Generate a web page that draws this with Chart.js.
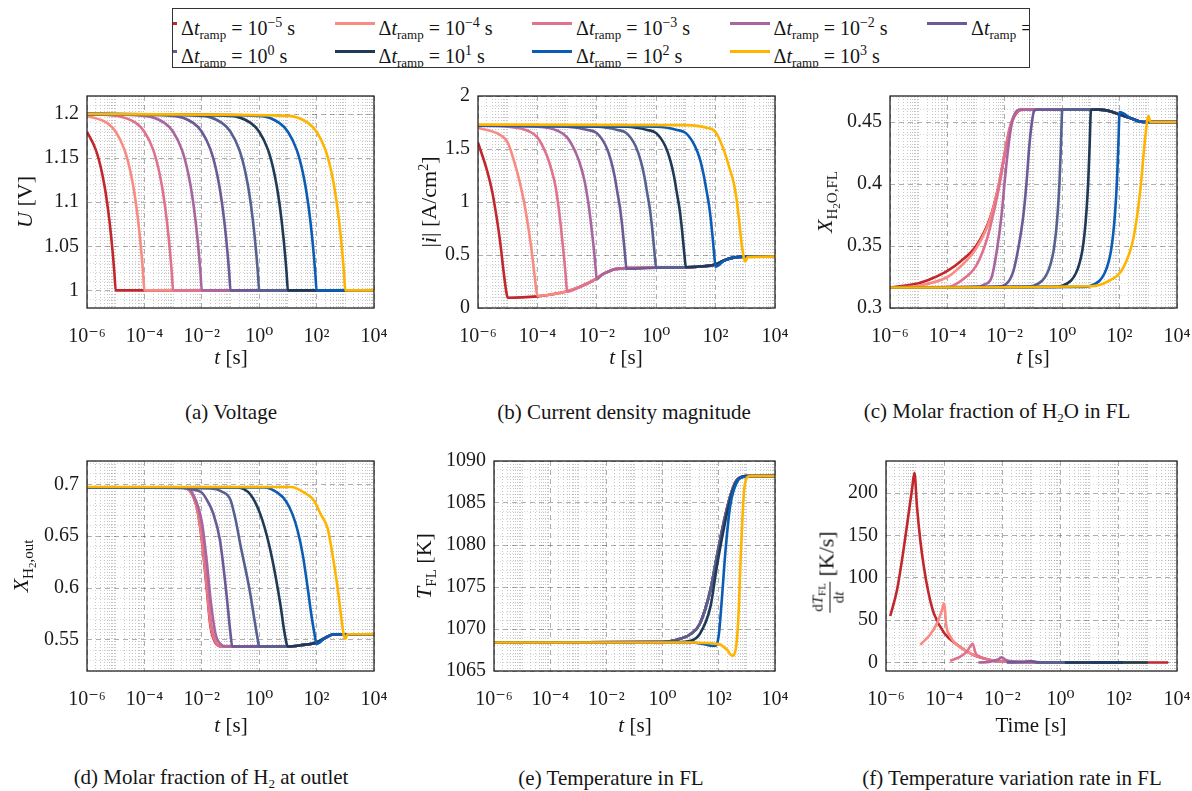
<!DOCTYPE html>
<html>
<head>
<meta charset="utf-8">
<title>Ramp duration study</title>
<script src="https://cdn.jsdelivr.net/npm/chart.js"></script>
<style>
  body { margin: 0; background: #fff; font-family: 'Liberation Serif', 'Times New Roman', serif; color: #151515; }
  #page { position: relative; width: 1192px; height: 791px; overflow: hidden; }
  .plot { position: absolute; }
  #legend {
    position: absolute; left: 172px; top: 8px; width: 858px; height: 60px;
    box-sizing: border-box; border: 1px solid #333; overflow: hidden;
  }
  .entry { position: absolute; font-size: 20px; line-height: 20px; white-space: nowrap; }
  .swatch { position: absolute; left: -44px; top: 9px; width: 40px; height: 3px; }
  .sb { font-size: 13px; vertical-align: -4px; }
  .sp { font-size: 14px; vertical-align: 8px; }
  .ytitle .sb { font-size: 15px; vertical-align: -5px; }
  .sb2 { font-size: 11px; vertical-align: -3px; }
  .xtitle, .ytitle, .caption { position: absolute; white-space: nowrap; line-height: 1; }
  .xtitle { font-size: 21px; transform: translate(-50%, -50%); }
  .ytitle { font-size: 22px; transform: translate(-50%, -50%) rotate(-90deg); }
  .caption { font-size: 21px; transform: translate(-50%, -50%); }
  .frac { display: inline-flex; flex-direction: column; align-items: center; vertical-align: middle; font-size: 15px; line-height: 16px; }
  .frac .num { border-bottom: 1px solid #151515; padding: 0 1px; }
</style>
</head>
<body>
<div id="page">
  <div id="legend"></div>

  <div class="plot" id="pa"><canvas></canvas></div>
  <div class="plot" id="pb"><canvas></canvas></div>
  <div class="plot" id="pc"><canvas></canvas></div>
  <div class="plot" id="pd"><canvas></canvas></div>
  <div class="plot" id="pe"><canvas></canvas></div>
  <div class="plot" id="pf"><canvas></canvas></div>

  <div class="ytitle" style="left:25px; top:202px;"><i>U</i> [V]</div>
  <div class="ytitle" style="left:428px; top:202px;">|<i>i</i>| [A/cm<span class="sp">2</span>]</div>
  <div class="ytitle" style="left:828px; top:202px;"><i>X</i><span class="sb">H<span class="sb2">2</span>O,FL</span></div>
  <div class="ytitle" style="left:24px; top:566px;"><i>X</i><span class="sb">H<span class="sb2">2</span>,out</span></div>
  <div class="ytitle" style="left:426px; top:566px;"><i>T</i><span class="sb">FL</span> [K]</div>
  <div class="ytitle" style="left:828px; top:572px;"><span class="frac"><span class="num">d<i>T</i><span class="sb2">FL</span></span><span>d<i>t</i></span></span> [K/s]</div>

  <div class="xtitle" style="left:231px; top:357px;"><i>t</i> [s]</div>
  <div class="xtitle" style="left:626px; top:357px;"><i>t</i> [s]</div>
  <div class="xtitle" style="left:1033px; top:357px;"><i>t</i> [s]</div>
  <div class="xtitle" style="left:231px; top:725px;"><i>t</i> [s]</div>
  <div class="xtitle" style="left:635px; top:725px;"><i>t</i> [s]</div>
  <div class="xtitle" style="left:1031px; top:725px;">Time [s]</div>

  <div class="caption" style="left:231px; top:412px;">(a) Voltage</div>
  <div class="caption" style="left:624px; top:412px;">(b) Current density magnitude</div>
  <div class="caption" style="left:997px; top:412px;">(c) Molar fraction of H<span class="sb">2</span>O in FL</div>
  <div class="caption" style="left:211px; top:778px;">(d) Molar fraction of H<span class="sb">2</span> at outlet</div>
  <div class="caption" style="left:611px; top:778px;">(e) Temperature in FL</div>
  <div class="caption" style="left:1012px; top:778px;">(f) Temperature variation rate in FL</div>
</div>

<script>
// ramp durations 10^k s, one curve each
const rampExponents = [-5, -4, -3, -2, -1, 0, 1, 2, 3];
const rampColors = ['#c1272d', '#f98b83', '#e0718f', '#a8659f', '#6a5a96', '#566190', '#1f3a56', '#0b5cb5', '#ffb400'];

const xTickValues = [1e-6, 1e-4, 1e-2, 1, 1e2, 1e4];
const xTickLabels = ['10⁻⁶', '10⁻⁴', '10⁻²', '10⁰', '10²', '10⁴'];

// (a) cell voltage [V]
const voltageTicks = [1, 1.05, 1.1, 1.15, 1.2];
const voltageRamp = [
  [[1e-6,1.18],[2e-6,1.16],[3e-6,1.14],[4e-6,1.12],[5e-6,1.1],[6e-6,1.08],[7e-6,1.06],[8e-6,1.04],[9e-6,1.02],[1e-5,1]],
  [[1e-6,1.198],[5e-6,1.19],[1e-5,1.18],[2e-5,1.16],[3e-5,1.14],[4e-5,1.12],[5e-5,1.1],[6e-5,1.08],[7e-5,1.06],[8e-5,1.04],[9e-5,1.02],[1e-4,1]],
  [[1e-6,1.2],[1e-5,1.198],[5e-5,1.19],[1e-4,1.18],[2e-4,1.16],[3e-4,1.14],[4e-4,1.12],[5e-4,1.1],[6e-4,1.08],[7e-4,1.06],[8e-4,1.04],[9e-4,1.02],[1e-3,1]],
  [[1e-6,1.2],[1e-4,1.198],[5e-4,1.19],[1e-3,1.18],[2e-3,1.16],[3e-3,1.14],[4e-3,1.12],[5e-3,1.1],[6e-3,1.08],[7e-3,1.06],[8e-3,1.04],[9e-3,1.02],[1e-2,1]],
  [[1e-6,1.2],[1e-3,1.198],[5e-3,1.19],[1e-2,1.18],[2e-2,1.16],[3e-2,1.14],[4e-2,1.12],[5e-2,1.1],[6e-2,1.08],[7e-2,1.06],[8e-2,1.04],[9e-2,1.02],[0.1,1]],
  [[1e-6,1.2],[1e-2,1.198],[0.05,1.19],[0.1,1.18],[0.2,1.16],[0.3,1.14],[0.4,1.12],[0.5,1.1],[0.6,1.08],[0.7,1.06],[0.8,1.04],[0.9,1.02],[1,1]],
  [[1e-6,1.2],[0.1,1.198],[0.5,1.19],[1,1.18],[2,1.16],[3,1.14],[4,1.12],[5,1.1],[6,1.08],[7,1.06],[8,1.04],[9,1.02],[10,1]],
  [[1e-6,1.2],[1,1.198],[5,1.19],[10,1.18],[20,1.16],[30,1.14],[40,1.12],[50,1.1],[60,1.08],[70,1.06],[80,1.04],[90,1.02],[100,1]],
  [[1e-6,1.2],[10,1.198],[50,1.19],[100,1.18],[200,1.16],[300,1.14],[400,1.12],[500,1.1],[600,1.08],[700,1.06],[800,1.04],[900,1.02],[1000,1]]
];
const voltageHold = [[1e4, 1]];

// (b) current density magnitude [A/cm2]
const currentTicks = [0, 0.5, 1, 1.5, 2];
const currentRamp = [
  [[1e-6,1.56],[2e-6,1.3],[3e-6,1.1],[4e-6,0.9],[5e-6,0.72],[6e-6,0.55],[7e-6,0.38],[8e-6,0.25],[9e-6,0.15],[1e-5,0.097]],
  [[1e-6,1.7],[5e-6,1.64],[1e-5,1.56],[2e-5,1.3],[3e-5,1.1],[4e-5,0.92],[5e-5,0.75],[6e-5,0.6],[7e-5,0.45],[8e-5,0.31],[9e-5,0.19],[1e-4,0.115]],
  [[1e-6,1.72],[1e-5,1.71],[5e-5,1.67],[1e-4,1.61],[2e-4,1.45],[3e-4,1.3],[4e-4,1.16],[5e-4,0.98],[6e-4,0.8],[7e-4,0.62],[8e-4,0.46],[9e-4,0.3],[1e-3,0.155]],
  [[1e-6,1.72],[1e-4,1.71],[5e-4,1.67],[1e-3,1.61],[2e-3,1.46],[3e-3,1.32],[4e-3,1.18],[5e-3,1.02],[6e-3,0.86],[7e-3,0.7],[8e-3,0.55],[9e-3,0.4],[1e-2,0.27]],
  [[1e-6,1.72],[1e-3,1.71],[5e-3,1.68],[1e-2,1.65],[2e-2,1.53],[3e-2,1.39],[4e-2,1.24],[5e-2,1.08],[6e-2,0.95],[7e-2,0.8],[8e-2,0.64],[9e-2,0.49],[0.1,0.37]],
  [[1e-6,1.72],[1e-2,1.71],[0.05,1.68],[0.1,1.65],[0.2,1.53],[0.3,1.39],[0.4,1.24],[0.5,1.08],[0.6,0.95],[0.7,0.8],[0.8,0.64],[0.9,0.49],[1,0.38]],
  [[1e-6,1.72],[0.1,1.71],[0.5,1.68],[1,1.65],[2,1.53],[3,1.39],[4,1.24],[5,1.08],[6,0.95],[7,0.8],[8,0.64],[9,0.49],[10,0.385]],
  [[1e-6,1.72],[1,1.71],[5,1.68],[10,1.65],[20,1.53],[30,1.4],[40,1.25],[50,1.1],[60,0.97],[70,0.82],[80,0.66],[90,0.5],[100,0.39]],
  [[1e-6,1.73],[10,1.725],[50,1.7],[100,1.66],[200,1.47],[300,1.31],[400,1.19],[500,1.04],[600,0.86],[700,0.68],[800,0.55],[900,0.47],[1000,0.44],[1200,0.48]]
];
const currentRelax = [[3e-5,0.1],[1e-4,0.11],[3e-4,0.128],[1e-3,0.158],[3e-3,0.205],[1e-2,0.28],[1.5e-2,0.315],[2.5e-2,0.345],[4e-2,0.365],[0.1,0.376],[1,0.38],[10,0.385],[30,0.392],[100,0.41],[200,0.45],[400,0.475],[1000,0.485],[1e4,0.485]];

// (c) H2O molar fraction in the fuel layer
const waterTicks = [0.3, 0.35, 0.4, 0.45];
const waterRise = [
  [[1e-6,0.3165],[1e-5,0.32],[3e-5,0.324],[1e-4,0.33],[3e-4,0.338],[1e-3,0.35],[3e-3,0.372],[6e-3,0.398],[1e-2,0.425],[1.5e-2,0.445],[2.5e-2,0.457],[4e-2,0.46]],
  [[1e-6,0.3165],[1e-5,0.318],[1e-4,0.325],[3e-4,0.334],[1e-3,0.348],[3e-3,0.371],[6e-3,0.398],[1e-2,0.425],[1.5e-2,0.446],[2.5e-2,0.458],[4e-2,0.46]],
  [[1e-6,0.3165],[1e-4,0.317],[3e-4,0.322],[1e-3,0.334],[2e-3,0.35],[3e-3,0.364],[6e-3,0.395],[1e-2,0.424],[1.5e-2,0.445],[2.5e-2,0.458],[4e-2,0.46]],
  [[1e-6,0.3165],[1e-3,0.317],[2e-3,0.319],[3.5e-3,0.325],[5.5e-3,0.349],[7.8e-3,0.376],[1e-2,0.403],[1.33e-2,0.43],[1.76e-2,0.449],[2.6e-2,0.459],[3.5e-2,0.46]],
  [[1e-6,0.3165],[5e-3,0.317],[1.2e-2,0.32],[2e-2,0.33],[3e-2,0.349],[4.5e-2,0.376],[5.8e-2,0.403],[7.1e-2,0.43],[8.7e-2,0.449],[0.105,0.459],[0.13,0.46]],
  [[1e-6,0.3165],[0.05,0.317],[0.1,0.318],[0.2,0.322],[0.3,0.328],[0.4,0.336],[0.5,0.346],[0.6,0.36],[0.7,0.378],[0.8,0.4],[0.9,0.43],[1,0.459],[1.1,0.46]],
  [[1e-6,0.3165],[0.5,0.317],[1,0.318],[2,0.322],[3,0.328],[4,0.336],[5,0.346],[6,0.36],[7,0.378],[8,0.4],[9,0.43],[10,0.459],[11,0.46]],
  [[1e-6,0.3165],[5,0.317],[10,0.318],[20,0.322],[30,0.328],[40,0.336],[50,0.346],[60,0.36],[70,0.378],[80,0.4],[90,0.43],[100,0.458]],
  [[1e-6,0.3165],[10,0.3175],[36,0.321],[138,0.333],[308,0.357],[526,0.395],[725,0.43],[900,0.45],[1000,0.455],[1200,0.45]]
];
const waterPlateau = [[4e-2,0.46],[20,0.46],[50,0.4585],[100,0.456],[250,0.453],[500,0.4505],[1000,0.45],[1e4,0.45]];

// (d) H2 molar fraction at the outlet
const hydrogenTicks = [0.55, 0.6, 0.65, 0.7];
const hydrogenDrop = [
  [[1e-6,0.697],[2e-3,0.697],[4e-3,0.693],[7e-3,0.675],[1e-2,0.646],[1.5e-2,0.598],[2e-2,0.563],[3e-2,0.547],[5e-2,0.5436]],
  [[1e-6,0.697],[2e-3,0.697],[4e-3,0.693],[7e-3,0.676],[1e-2,0.648],[1.5e-2,0.601],[2e-2,0.566],[3e-2,0.548],[5e-2,0.5436]],
  [[1e-6,0.697],[2.2e-3,0.697],[4.5e-3,0.692],[7.5e-3,0.675],[1.1e-2,0.645],[1.6e-2,0.598],[2.2e-2,0.562],[3.2e-2,0.547],[5e-2,0.5436]],
  [[1e-6,0.697],[3e-3,0.697],[5e-3,0.69],[1e-2,0.664],[1.5e-2,0.625],[2e-2,0.59],[3e-2,0.556],[5e-2,0.545],[7e-2,0.5436]],
  [[1e-6,0.697],[1e-3,0.697],[5e-3,0.695],[1e-2,0.692],[1.5e-2,0.685],[2.5e-2,0.672],[4.3e-2,0.646],[7e-2,0.598],[0.1,0.556],[0.115,0.5436]],
  [[1e-6,0.697],[2e-2,0.696],[5e-2,0.693],[0.1,0.685],[0.15,0.666],[0.22,0.642],[0.45,0.6],[0.67,0.571],[0.87,0.552],[1,0.5436]],
  [[1e-6,0.697],[0.17,0.697],[0.5,0.69],[1.1,0.671],[2.2,0.642],[3.8,0.61],[5.7,0.581],[7.4,0.559],[10,0.5436]],
  [[1e-6,0.697],[1.5,0.697],[4.3,0.692],[8.5,0.684],[14.5,0.671],[22,0.655],[33,0.632],[49,0.6],[65,0.575],[85,0.5555],[100,0.546]],
  [[1e-6,0.6975],[13,0.6975],[37,0.692],[83,0.684],[140,0.671],[240,0.658],[360,0.632],[540,0.6],[700,0.575],[880,0.555],[1000,0.551],[1200,0.5555]]
];
const hydrogenSettle = [[0.12,0.5436],[10,0.5436],[30,0.545],[100,0.5475],[200,0.552],[400,0.5555],[1e4,0.5555]];

// (e) fuel layer temperature [K]
const tempTicks = [1065, 1070, 1075, 1080, 1085, 1090];
const tempFast = [[1e-6,1068.4],[1,1068.45],[3,1068.7],[10,1069.4],[21,1070.6],[50,1074.6],[85,1078.6],[146,1082.5],[250,1085.7],[430,1087.7],[1000,1088.2],[1e4,1088.2]];
const tempRamp10 = [[1e-6,1068.4],[3,1068.45],[10,1068.6],[21,1069.4],[50,1072.6],[85,1077.4],[146,1081.7],[250,1085.3],[430,1087.5],[1000,1088.2],[1e4,1088.2]];
const tempRamp100 = [[1e-6,1068.4],[10,1068.4],[30,1068.2],[60,1068],[80,1068],[100,1069.3],[128,1073.5],[170,1079],[250,1084.5],[430,1087.4],[800,1088.1],[1e4,1088.2]];
const tempRamp1000 = [[1e-6,1068.4],[10,1068.4],[100,1068.2],[200,1067.5],[300,1066.8],[400,1067.6],[500,1071.5],[600,1078.5],[700,1083.5],[800,1086.6],[1000,1088],[1300,1088.2],[1e4,1088.2]];

// (f) temperature rate dT/dt [K/s]
const rateTicks = [0, 50, 100, 150, 200];
const rateCurves = [
  [[1.4e-6,55],[2.4e-6,86],[4e-6,133],[6e-6,176],[7.8e-6,204],[9.5e-6,224],[1.16e-5,184],[1.5e-5,145],[2e-5,113],[2.9e-5,82],[4.4e-5,58],[1e-4,35],[2.8e-4,21],[1e-3,9],[3.8e-3,3],[1e-2,1.2],[0.1,0.3],[1,0],[5000,0]],
  [[1.5e-5,21],[3.3e-5,33],[5.6e-5,46],[8.4e-5,62],[9.8e-5,70],[1.2e-4,42],[1.6e-4,31],[2.7e-4,21],[6e-4,13],[1e-3,9],[3.8e-3,3],[1e-2,1.2],[0.1,0.3],[1,0],[1000,0]],
  [[1.6e-4,2],[3.6e-4,7],[6e-4,13],[9.5e-4,22],[1.2e-3,11],[1.7e-3,7],[3.8e-3,3],[1e-2,1.2],[0.1,0.3],[1,0],[1000,0]],
  [[1.5e-3,0],[3.8e-3,1],[7.5e-3,4],[9.5e-3,6.3],[1.3e-2,3],[3.2e-2,1],[9e-2,0.4],[1,0],[1000,0]],
  [[1.4e-2,0],[5e-2,0.8],[0.1,1.6],[0.15,0.6],[0.4,0.2],[1,0],[1000,0]],
  [[0.14,0],[1,0.3],[1.5,0.1],[10,0],[1000,0]],
  [[1.4,0],[10,0.05],[15,0],[1000,0]],
  [[14,0],[100,0.01],[1000,0]],
  [[140,0],[1000,0]]
];

const FONT = "'Liberation Serif', 'DejaVu Serif', serif";
const PAD_L = 80, PAD_R = 20, PAD_T = 12, PAD_B = 45;

// append the shared relaxation part after each ramp
function withTail(ramp, tail) {
  const end = ramp[ramp.length - 1][0];
  return ramp.concat(tail.filter(p => p[0] > end));
}

// grid positions: every 1..9 x 10^k on the time axis
const xGrid = [];
for (let e = -6; e < 4; e++) for (let m = 1; m < 10; m++) xGrid.push(m * Math.pow(10, e));
xGrid.push(1e4);
function xMajor(v) {
  return xTickValues.findIndex(t => Math.abs(Math.log10(v / t)) < 1e-6);
}
function yGrid(min, max, step) {
  const out = [];
  for (let i = Math.ceil(min / step - 1e-9); i * step <= max + 1e-9; i++) out.push(+(i * step).toFixed(6));
  return out;
}

const frameBox = {
  id: 'frameBox',
  afterDatasetsDraw(chart) {
    const { ctx, chartArea: a } = chart;
    ctx.save();
    ctx.strokeStyle = '#222';
    ctx.lineWidth = 1.3;
    ctx.strokeRect(a.left, a.top, a.right - a.left, a.bottom - a.top);
    ctx.restore();
  }
};

function makePanel(id, box, y, series, order) {
  const holder = document.getElementById(id);
  const W = box.r - box.l + PAD_L + PAD_R;
  const H = box.b - box.t + PAD_T + PAD_B;
  holder.style.left = (box.l - PAD_L) + 'px';
  holder.style.top = (box.t - PAD_T) + 'px';
  const canvas = holder.querySelector('canvas');
  canvas.width = W;
  canvas.height = H;

  const yVals = yGrid(y.min, y.max, y.minor);
  const yMajor = v => y.ticks.findIndex(t => Math.abs(t - v) < y.minor * 1e-3);

  new Chart(canvas.getContext('2d'), {
    type: 'line',
    data: {
      datasets: series.map((pts, k) => ({
        label: '10^' + rampExponents[k] + ' s',
        data: pts,
        borderColor: rampColors[k],
        borderWidth: 2.6,
        pointRadius: 0,
        fill: false,
        cubicInterpolationMode: 'monotone',
        order: order ? order[k] : 8 - k
      }))
    },
    options: {
      responsive: false,
      animation: false,
      events: [],
      layout: { padding: { left: 0, right: PAD_R, top: PAD_T, bottom: 0 } },
      plugins: { legend: { display: false }, tooltip: { enabled: false } },
      scales: {
        x: {
          type: 'logarithmic',
          min: 1e-6,
          max: 1e4,
          afterBuildTicks: axis => { axis.ticks = xGrid.map(v => ({ value: v })); },
          afterFit: s => { s.height = PAD_B; s.paddingLeft = 0; s.paddingRight = 0; },
          ticks: {
            autoSkip: false,
            maxRotation: 0,
            padding: 17,
            color: '#1a1a1a',
            font: { family: FONT, size: 20 },
            callback: v => { const i = xMajor(v); return i >= 0 ? xTickLabels[i] : ''; }
          },
          grid: {
            drawTicks: false,
            lineWidth: 1,
            color: c => (c.tick && xMajor(c.tick.value) >= 0) ? 'rgba(30,30,30,0.36)' : 'rgba(70,70,70,0.3)'
          },
          border: {
            display: false,
            dash: c => (c.tick && xMajor(c.tick.value) >= 0) ? [5, 4] : [1, 2]
          }
        },
        y: {
          type: 'linear',
          min: y.min,
          max: y.max,
          afterBuildTicks: axis => { axis.ticks = yVals.map(v => ({ value: v })); },
          afterFit: s => { s.width = PAD_L; s.paddingTop = 0; s.paddingBottom = 0; },
          ticks: {
            autoSkip: false,
            padding: 8,
            color: '#1a1a1a',
            font: { family: FONT, size: 20 },
            callback: v => { const i = yMajor(v); return i >= 0 ? String(y.ticks[i]) : ''; }
          },
          grid: {
            drawTicks: false,
            lineWidth: 1,
            color: c => (c.tick && yMajor(c.tick.value) >= 0) ? 'rgba(30,30,30,0.36)' : 'rgba(70,70,70,0.2)'
          },
          border: {
            display: false,
            dash: c => (c.tick && yMajor(c.tick.value) >= 0) ? [5, 4] : [1, 2]
          }
        }
      }
    },
    plugins: [frameBox]
  });
}

// shared legend above the panels
const legend = document.getElementById('legend');
rampExponents.forEach((e, k) => {
  const row = k < 5 ? 0 : 1;
  const col = k < 5 ? k : k - 5;
  const item = document.createElement('div');
  item.className = 'entry';
  item.style.left = (8 + col * 197.5) + 'px';
  item.style.top = (row === 0 ? 4 : 32) + 'px';
  const exp = String(e).replace('-', '\u2212');
  item.innerHTML = '<span class="swatch" style="background:' + rampColors[k] + '"></span>' +
    '\u0394<i>t</i><span class="sb">ramp</span> = 10<span class="sp">' + exp + '</span> s';
  legend.appendChild(item);
});

makePanel('pa', { l: 87, r: 374, t: 96, b: 308 },
  { min: 0.98, max: 1.2205, ticks: voltageTicks, minor: 0.01 },
  voltageRamp.map(r => withTail(r, voltageHold)));

makePanel('pb', { l: 478, r: 775, t: 96, b: 308 },
  { min: 0, max: 2, ticks: currentTicks, minor: 0.1 },
  currentRamp.map(r => withTail(r, currentRelax)));

makePanel('pc', { l: 890, r: 1177, t: 96, b: 308 },
  { min: 0.3, max: 0.471, ticks: waterTicks, minor: 0.01 },
  waterRise.map(r => withTail(r, waterPlateau)));

makePanel('pd', { l: 87, r: 374, t: 461, b: 671 },
  { min: 0.52, max: 0.7225, ticks: hydrogenTicks, minor: 0.01 },
  hydrogenDrop.map(r => withTail(r, hydrogenSettle)));

makePanel('pe', { l: 494, r: 775, t: 461, b: 671 },
  { min: 1065, max: 1090, ticks: tempTicks, minor: 1 },
  [tempFast, tempFast, tempFast, tempFast, tempFast, tempFast, tempRamp10, tempRamp100, tempRamp1000]);

// navy curve sits over the two slowest ramps in the rate plot
makePanel('pf', { l: 886, r: 1177, t: 461, b: 671 },
  { min: -10, max: 238, ticks: rateTicks, minor: 10 },
  rateCurves, [8, 7, 6, 5, 4, 3, 0, 2, 1]);
</script>
</body>
</html>
